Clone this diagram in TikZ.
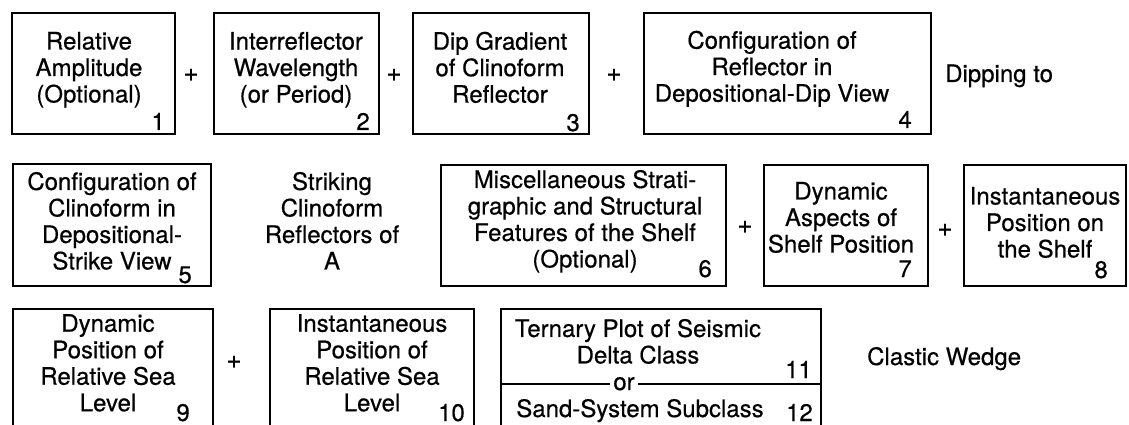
\documentclass[tikz,border=0pt]{standalone}
\usepackage{fontspec}
\setmainfont{TeX Gyre Heros}[FakeBold=0.5]

\newcommand{\boxfont}{\fontsize{24}{26.5}\selectfont}

\begin{document}
\begin{tikzpicture}[x=1pt,y=-1pt,
	panel/.style={draw, line width=1.7pt, anchor=north west, minimum height=121, inner sep=0pt},
	txt/.style={align=center, font=\boxfont, inner sep=0pt,
		execute at begin node=\strut, execute at end node=\strut},
	num/.style={font=\boxfont, anchor=base east, inner sep=0pt},
	plussign/.style={font=\fontsize{26}{26}\selectfont, inner sep=0pt}]
	\useasboundingbox (0,0) rectangle (1129,425);
	\clip (0,0) rectangle (1129,425);

	% first row
	\node[panel, minimum width=163] (relamp) at (11,12) {};
	\node[panel, minimum width=165] (wavelen) at (213,12) {};
	\node[panel, minimum width=176] (dipgrad) at (412,12) {};
	\node[panel, minimum width=287] (dipview) at (643,12) {};
	\node[txt] (relamptxt) at (89,71.2) {Relative\\Amplitude\\(Optional)};
	\node[txt] (wavelentxt) at (296,71.2) {Interreflector\\Wavelength\\(or Period)};
	\node[txt] (dipgradtxt) at (500,71.2) {Dip Gradient\\of Clinoform\\Reflector};
	\node[txt] (dipviewtxt) at (772,70.2) {Configuration of\\Reflector in\\Depositional-Dip View};
	\node[num] (n1) at (165,130) {1};
	\node[num] (n2) at (370,130) {2};
	\node[num] (n3) at (580,131) {3};
	\node[num] (n4) at (912,128) {4};
	\node[plussign] (p1) at (191,75) {+};
	\node[plussign] (p2) at (394,75) {+};
	\node[plussign] (p3) at (614,75) {+};
	\node[font=\boxfont, anchor=base west, inner sep=0pt] (dipping) at (945,82) {Dipping to};

	% second row
	\node[panel, minimum width=198, minimum height=122] (strikeview) at (12,163) {};
	\node[panel, minimum width=285] (misc) at (440,164) {};
	\node[panel, minimum width=164] (shelfdyn) at (763,164) {};
	\node[panel, minimum width=162] (shelfpos) at (963,164) {};
	\node[txt] (strikeviewtxt) at (112,224.7) {Configuration of\\Clinoform in\\Depositional-\\Strike View\hspace{14pt}};
	\node[txt] (striking) at (332,224.7) {Striking\\Clinoform\\Reflectors of\\A};
	\node[txt] (misctxt) at (585,222.7) {Miscellaneous Strati-\\graphic and Structural\\Features of the Shelf\\(Optional)};
	\node[txt] (shelfdyntxt) at (841,221.2) {Dynamic\\Aspects of\\Shelf Position};
	\node[txt] (shelfpostxt) at (1045,226.2) {Instantaneous\\Position on\\the Shelf};
	\node[num] (n5) at (192,283) {5};
	\node[num] (n6) at (712,277) {6};
	\node[num] (n7) at (912,277) {7};
	\node[num] (n8) at (1108,278) {8};
	\node[plussign] (p4) at (745,227) {+};
	\node[plussign] (p5) at (945,230) {+};

	% third row, boxes run off the bottom
	\node[panel, minimum width=200, minimum height=132] (sldyn) at (12,308) {};
	\node[panel, minimum width=204, minimum height=132] (slpos) at (269,308) {};
	\node[panel, minimum width=320, minimum height=132] (ternary) at (500,308) {};
	\node[txt] (sldyntxt) at (108,366.7) {Dynamic\\Position of\\Relative Sea\\Level};
	\node[txt] (slpostxt) at (372,366.7) {Instantaneous\\Position of\\Relative Sea\\Level};
	\node[txt] (ternarytxt) at (638,345.2) {Ternary Plot of Seismic\\Delta Class};
	\node[font=\boxfont, anchor=base, inner sep=0pt] (sandtxt) at (640,417) {Sand-System Subclass};
	\node[font=\boxfont, anchor=base, inner xsep=3pt, inner ysep=0pt] (or) at (624,390) {or};
	\draw[line width=1.7pt] (ternary.west |- or.center) -- (or.west |- or.center);
	\draw[line width=1.7pt] (or.east |- or.center) -- (ternary.east |- or.center);
	\node[num] (n9) at (190,421) {9};
	\node[num] (n10) at (465,421) {10};
	\node[num] (n11) at (812,378) {11};
	\node[num] (n12) at (813,421) {12};
	\node[plussign] (p6) at (234,362) {+};
	\node[font=\boxfont, anchor=base west, inner sep=0pt] (wedge) at (867,365) {Clastic Wedge};
\end{tikzpicture}
\end{document}
